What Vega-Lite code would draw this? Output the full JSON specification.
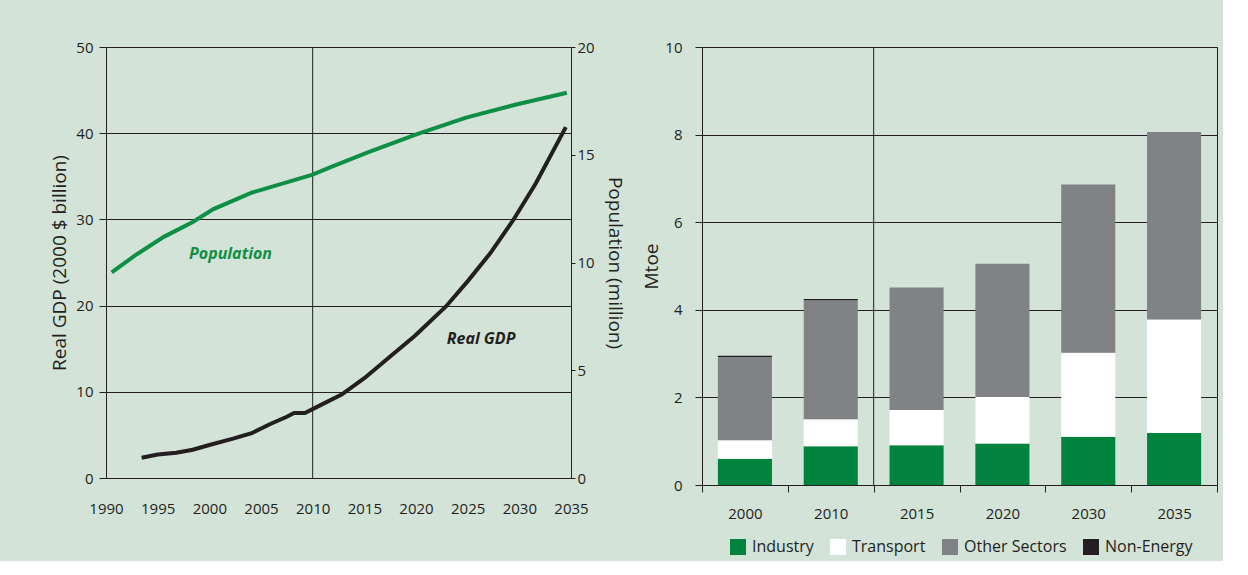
{
  "$schema": "https://vega.github.io/schema/vega-lite/v6.json",
  "background": "#d3e3d7",
  "padding": {"left": 50, "top": 39, "right": 5, "bottom": 5},
  "spacing": 18,
  "config": {
    "font": "Open Sans",
    "view": {"stroke": "#231f20", "strokeWidth": 1},
    "axis": {
      "labelFont": "Open Sans", "labelFontSize": 15, "labelColor": "#231f20",
      "titleFont": "Open Sans", "titleFontSize": 19, "titleFontWeight": "normal", "titleColor": "#231f20",
      "domain": false, "tickColor": "#231f20", "tickSize": 7, "gridColor": "#231f20", "gridOpacity": 1, "gridWidth": 1
    },
    "legend": {"labelFont": "Open Sans", "labelFontSize": 16, "labelColor": "#231f20"}
  },
  "resolve": {"legend": {"color": "independent"}},
  "datasets": {
    "gdp": [
      {"year": 1993.45, "gdp": 2.34}, {"year": 1995.0, "gdp": 2.73}, {"year": 1996.8, "gdp": 2.94},
      {"year": 1998.4, "gdp": 3.28}, {"year": 2000.0, "gdp": 3.83}, {"year": 2002.3, "gdp": 4.56},
      {"year": 2004.1, "gdp": 5.2}, {"year": 2005.9, "gdp": 6.26}, {"year": 2007.5, "gdp": 7.1},
      {"year": 2008.2, "gdp": 7.54}, {"year": 2009.25, "gdp": 7.54}, {"year": 2011.0, "gdp": 8.6},
      {"year": 2012.8, "gdp": 9.67}, {"year": 2015.0, "gdp": 11.58}, {"year": 2017.3, "gdp": 13.9},
      {"year": 2019.9, "gdp": 16.5}, {"year": 2022.9, "gdp": 19.9}, {"year": 2025.05, "gdp": 22.9},
      {"year": 2027.2, "gdp": 26.1}, {"year": 2029.4, "gdp": 29.9}, {"year": 2031.6, "gdp": 34.2},
      {"year": 2034.5, "gdp": 40.7}
    ],
    "pop": [
      {"year": 1990.55, "pop": 9.54}, {"year": 1992.85, "pop": 10.34}, {"year": 1995.6, "pop": 11.19},
      {"year": 1998.4, "pop": 11.88}, {"year": 2000.4, "pop": 12.48}, {"year": 2004.1, "pop": 13.24},
      {"year": 2010.0, "pop": 14.08}, {"year": 2011.8, "pop": 14.44}, {"year": 2015.4, "pop": 15.12},
      {"year": 2020.1, "pop": 15.96}, {"year": 2024.85, "pop": 16.72}, {"year": 2029.6, "pop": 17.32},
      {"year": 2034.6, "pop": 17.88}
    ],
    "energy": [
      {"period": "2000", "sector": "Industry", "mtoe": 0.60},
      {"period": "2000", "sector": "Transport", "mtoe": 0.42},
      {"period": "2000", "sector": "Other Sectors", "mtoe": 1.90},
      {"period": "2000", "sector": "Non-Energy", "mtoe": 0.03},
      {"period": "2010", "sector": "Industry", "mtoe": 0.885},
      {"period": "2010", "sector": "Transport", "mtoe": 0.615},
      {"period": "2010", "sector": "Other Sectors", "mtoe": 2.72},
      {"period": "2010", "sector": "Non-Energy", "mtoe": 0.025},
      {"period": "2015", "sector": "Industry", "mtoe": 0.91},
      {"period": "2015", "sector": "Transport", "mtoe": 0.80},
      {"period": "2015", "sector": "Other Sectors", "mtoe": 2.80},
      {"period": "2015", "sector": "Non-Energy", "mtoe": 0},
      {"period": "2020", "sector": "Industry", "mtoe": 0.95},
      {"period": "2020", "sector": "Transport", "mtoe": 1.06},
      {"period": "2020", "sector": "Other Sectors", "mtoe": 3.04},
      {"period": "2020", "sector": "Non-Energy", "mtoe": 0},
      {"period": "2030", "sector": "Industry", "mtoe": 1.10},
      {"period": "2030", "sector": "Transport", "mtoe": 1.92},
      {"period": "2030", "sector": "Other Sectors", "mtoe": 3.84},
      {"period": "2030", "sector": "Non-Energy", "mtoe": 0},
      {"period": "2035", "sector": "Industry", "mtoe": 1.19},
      {"period": "2035", "sector": "Transport", "mtoe": 2.59},
      {"period": "2035", "sector": "Other Sectors", "mtoe": 4.28},
      {"period": "2035", "sector": "Non-Energy", "mtoe": 0}
    ]
  },
  "hconcat": [
    {
      "width": 465,
      "height": 431,
      "layer": [
        {
          "data": {"values": [{}]},
          "mark": {"type": "rule", "color": "#231f20", "strokeWidth": 1},
          "encoding": {"x": {"datum": 2010, "type": "quantitative", "scale": {"domain": [1990, 2035], "nice": false, "zero": false}}}
        },
        {
          "data": {"name": "gdp"},
          "mark": {"type": "line", "color": "#231f20", "strokeWidth": 4},
          "encoding": {
            "x": {"field": "year", "type": "quantitative",
                  "scale": {"domain": [1990, 2035], "nice": false, "zero": false},
                  "axis": {"title": null, "values": [1990,1995,2000,2005,2010,2015,2020,2025,2030,2035], "format": "d", "ticks": false, "grid": false, "labelFlush": false, "labelPadding": 23}},
            "y": {"field": "gdp", "type": "quantitative",
                  "scale": {"domain": [0, 50], "nice": false},
                  "axis": {"title": "Real GDP (2000 $ billion)", "values": [0,10,20,30,40,50], "grid": true, "labelPadding": 6, "titlePadding": 6}}
          }
        },
        {
          "data": {"name": "pop"},
          "mark": {"type": "line", "color": "#0f8f45", "strokeWidth": 4},
          "encoding": {
            "x": {"field": "year", "type": "quantitative", "scale": {"domain": [1990, 2035], "nice": false, "zero": false}},
            "y": {"field": "pop", "type": "quantitative",
                  "scale": {"domain": [0, 20], "nice": false},
                  "axis": {"orient": "right", "title": "Population (million)", "values": [0,5,10,15,20], "grid": false, "tickSize": 4, "labelPadding": 2, "titlePadding": 10}}
          }
        },
        {
          "data": {"values": [{}]},
          "mark": {"type": "text", "text": "Real GDP", "fontSize": 16, "fontWeight": "bold", "fontStyle": "italic", "color": "#231f20"},
          "encoding": {
            "x": {"datum": 2026.3, "type": "quantitative", "scale": {"domain": [1990, 2035], "nice": false, "zero": false}},
            "y": {"datum": 16.1, "type": "quantitative", "scale": {"domain": [0, 50], "nice": false}, "axis": null}
          }
        },
        {
          "data": {"values": [{}]},
          "mark": {"type": "text", "text": "Population", "fontSize": 16, "fontWeight": "bold", "fontStyle": "italic", "color": "#0f8f45"},
          "encoding": {
            "x": {"datum": 2002.05, "type": "quantitative", "scale": {"domain": [1990, 2035], "nice": false, "zero": false}},
            "y": {"datum": 26.0, "type": "quantitative", "scale": {"domain": [0, 50], "nice": false}, "axis": null}
          }
        }
      ],
      "resolve": {"scale": {"y": "independent"}, "axis": {"y": "independent"}}
    },
    {
      "width": 515,
      "height": 438,
      "data": {"name": "energy"},
      "transform": [
        {"calculate": "indexof(['Industry', 'Transport', 'Other Sectors', 'Non-Energy'], datum.sector)", "as": "stackOrder"}
      ],
      "layer": [
        {
          "mark": {"type": "bar", "width": {"band": 0.63}},
          "encoding": {
            "x": {"field": "period", "type": "nominal",
                  "scale": {"paddingInner": 0, "paddingOuter": 0},
                  "axis": {"title": null, "labelAngle": 0, "tickBand": "extent", "labelPadding": 14, "grid": false}},
            "y": {"field": "mtoe", "type": "quantitative", "stack": "zero",
                  "scale": {"domain": [0, 10], "nice": false},
                  "axis": {"title": "Mtoe", "values": [0,2,4,6,8,10], "grid": true, "labelPadding": 13, "titlePadding": 3}},
            "color": {"field": "sector", "type": "nominal",
                      "scale": {"domain": ["Industry", "Transport", "Other Sectors", "Non-Energy"],
                                "range": ["#00843d", "#ffffff", "#808285", "#231f20"]},
                      "legend": {"title": null, "orient": "none", "legendX": 28, "legendY": 492, "direction": "horizontal", "symbolType": "square", "symbolSize": 256, "symbolStrokeWidth": 0, "symbolOpacity": 1, "labelOffset": 6, "columnPadding": 16}},
            "order": {"field": "stackOrder", "type": "quantitative", "sort": "ascending"}
          }
        },
        {
          "data": {"values": [{}]},
          "mark": {"type": "rule", "color": "#231f20", "strokeWidth": 1},
          "encoding": {"x": {"datum": "2015", "type": "nominal", "bandPosition": 0}}
        }
      ]
    }
  ]
}
